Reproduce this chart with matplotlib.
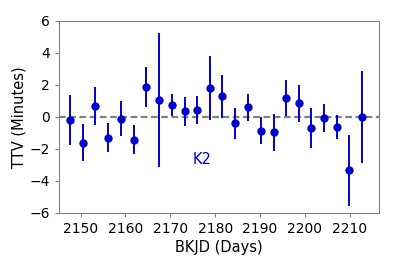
import matplotlib
matplotlib.use("Agg")
import matplotlib.pyplot as plt

# Transit times (BKJD) and TTVs in minutes
bkjd = [2147.7, 2150.5, 2153.3, 2156.2, 2159.0, 2161.9, 2164.6, 2167.4,
        2170.3, 2173.2, 2176.0, 2178.8, 2181.6, 2184.5, 2187.3, 2190.1,
        2193.0, 2195.7, 2198.6, 2201.4, 2204.3, 2207.1, 2209.9, 2212.7]
ttv = [-0.21, -1.62, 0.67, -1.31, -0.12, -1.42, 1.83, 1.04,
       0.75, 0.34, 0.42, 1.81, 1.27, -0.42, 0.60, -0.87,
       -0.98, 1.17, 0.84, -0.73, -0.08, -0.64, -3.35, -0.02]
ttv_err = [1.58, 1.17, 1.21, 0.91, 1.11, 0.91, 1.25, 4.20,
           0.70, 0.90, 0.87, 2.00, 1.35, 0.94, 0.84, 0.84,
           1.15, 1.14, 1.16, 1.25, 0.90, 0.73, 2.20, 2.87]

blue = "#0000cd"

fig = plt.figure(figsize=(3.99, 2.66), dpi=100)
ax = fig.add_axes([0.148, 0.200, 0.802, 0.722])

ax.axhline(0, color="gray", ls="--", lw=1.6, dashes=(3.0, 1.6), zorder=1)
ax.errorbar(bkjd, ttv, yerr=ttv_err, fmt="o", color=blue, ms=5,
            elinewidth=1.4, capsize=0, zorder=2)
ax.text(2177.1, -2.7, "K2", color=blue, fontsize=10.5, ha="center", va="center")

ax.set_xlim(2145.2, 2216.5)
ax.set_ylim(-6, 6)
ax.set_xticks([2150, 2160, 2170, 2180, 2190, 2200, 2210])
ax.set_yticks([-6, -4, -2, 0, 2, 4, 6])
ax.set_xlabel("BKJD (Days)", fontsize=10.5, labelpad=3)
ax.set_ylabel("TTV (Minutes)", fontsize=10.5, labelpad=2)
ax.tick_params(labelsize=10, color="gray", length=3)
for s in ax.spines.values():
    s.set_color("gray")

fig.savefig("out.png", dpi=100)
